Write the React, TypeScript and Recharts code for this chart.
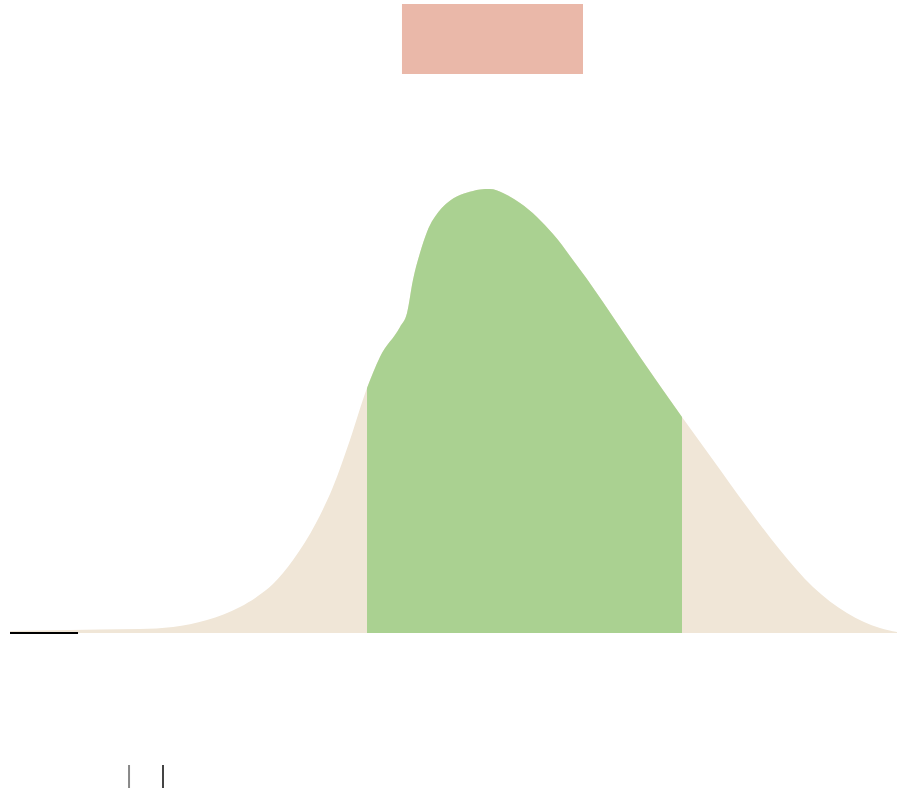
import React from 'react';
import { ComposedChart, Area, XAxis, YAxis, ReferenceArea, ReferenceLine } from 'recharts';

// density curve
const xs = [0, 10.1, 14.66, 18.38, 22.21, 25.93, 27.8, 29.65, 31.91, 34.5, 36.41, 38.33, 40.25, 41.71, 43.97, 44.76, 45.43, 46.22, 47.01, 48.48, 49.27, 50.73, 52.2, 53.0, 54.11, 55.58, 57.5, 59.41, 60.3, 61.22, 62.23, 63.13, 65.05, 66.85, 71.03, 75.76, 79.26, 83.09, 86.81, 90.53, 94.36, 98.08, 100];
const density = [0.002, 0.0035, 0.004, 0.006, 0.013, 0.026, 0.036, 0.049, 0.073, 0.11, 0.146, 0.193, 0.245, 0.276, 0.306, 0.32, 0.353, 0.38, 0.401, 0.423, 0.43, 0.438, 0.442, 0.4435, 0.444, 0.44, 0.43, 0.416, 0.408, 0.399, 0.388, 0.377, 0.354, 0.331, 0.276, 0.216, 0.173, 0.126, 0.083, 0.046, 0.02, 0.005, 0.001];

// highlighted interval
const bandLow = 40.25;
const bandHigh = 75.76;

const data = xs.map((x, i) => ({
  x,
  all: density[i],
  band: x >= bandLow && x <= bandHigh ? density[i] : null,
}));

export default function App() {
  return (
    <div style={{ position: 'absolute', left: 0, top: 0, width: 897, height: 797, background: '#fff' }}>
      <ComposedChart width={897} height={797} data={data} margin={{ top: 0, right: 0, bottom: 164, left: 10 }}>
        <XAxis dataKey="x" type="number" domain={[0, 100]} hide />
        <YAxis type="number" domain={[0, 0.633]} hide allowDataOverflow />
        <Area type="monotone" dataKey="all" stroke="none" fill="#f0e6d7" fillOpacity={1} isAnimationActive={false} />
        <Area type="monotone" dataKey="band" stroke="none" fill="#aad191" fillOpacity={1} isAnimationActive={false} />
        <ReferenceArea x1={44.19} x2={64.6} y1={0.559} y2={0.629} fill="#eab8a9" fillOpacity={1} stroke="none" ifOverflow="visible" />
        <ReferenceLine segment={[{ x: 0, y: 0 }, { x: 7.67, y: 0 }]} stroke="#000" strokeWidth={2} ifOverflow="visible" />
        <ReferenceLine segment={[{ x: 13.42, y: -0.132 }, { x: 13.42, y: -0.155 }]} stroke="#888" strokeWidth={2} ifOverflow="visible" />
        <ReferenceLine segment={[{ x: 17.25, y: -0.132 }, { x: 17.25, y: -0.155 }]} stroke="#444" strokeWidth={2} ifOverflow="visible" />
      </ComposedChart>
    </div>
  );
}
